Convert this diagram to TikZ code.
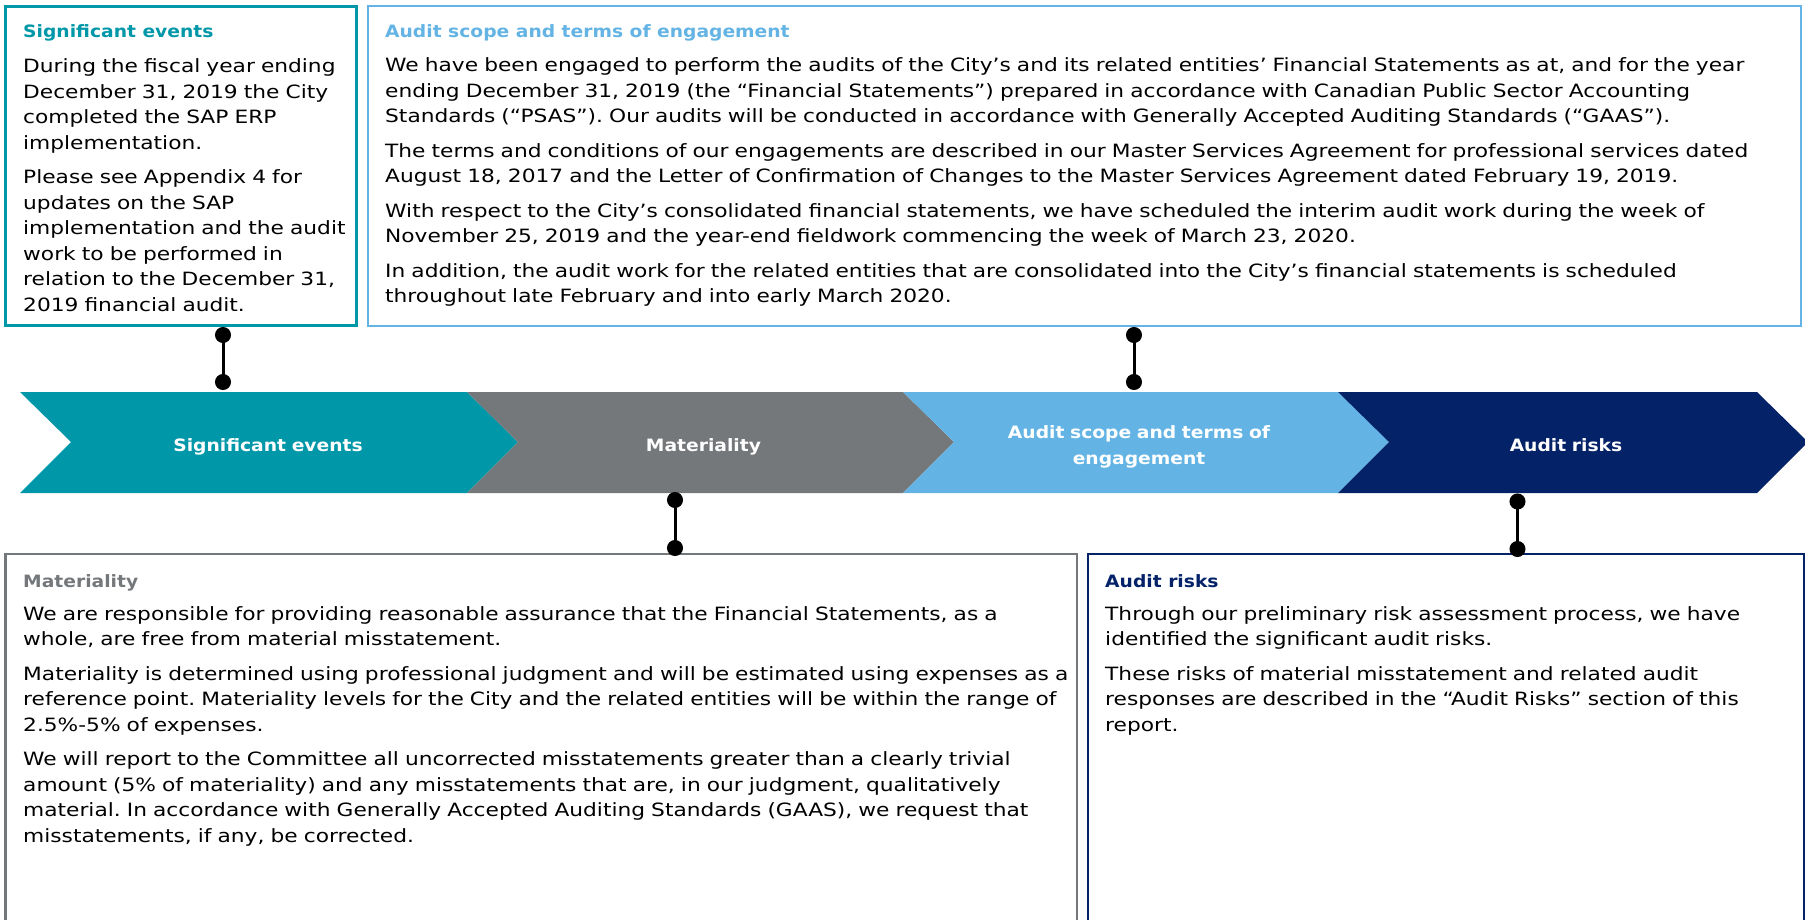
\documentclass[tikz,border=0pt]{standalone}
\usepackage{fontspec}
\setmainfont{DejaVu Sans}[FakeStretch=1.187]
\newfontfamily\headfont{DejaVu Sans}[FakeStretch=1.1]
\usepackage{tikz}
\usetikzlibrary{arrows.meta}
\frenchspacing

\definecolor{seTeal}{RGB}{0,151,169}
\definecolor{matGray}{RGB}{117,120,123}
\definecolor{scopeBlue}{RGB}{99,180,228}
\definecolor{riskNavy}{RGB}{3,34,104}

\tikzset{
  panel/.style={draw, rectangle, inner sep=0pt, outer sep=0pt, anchor=north west},
  head/.style={anchor=base west, inner sep=0pt, font=\headfont\bfseries\fontsize{17pt}{20pt}\selectfont},
  body/.style={anchor=base west, inner sep=0pt, text width=#1, align=left,
    font=\fontsize{18.3pt}{25.5pt}\selectfont},
  body/.default=1450pt,
  chevlabel/.style={anchor=base, inner sep=0pt, text=white, text width=330pt, align=center,
    font=\headfont\bfseries\fontsize{17pt}{26pt}\selectfont},
  link/.style={line width=3pt, {Circle[length=16pt,width=16pt]}-{Circle[length=16pt,width=16pt]}}
}

\begin{document}
\begin{tikzpicture}[x=1pt, y=-1pt]
    \useasboundingbox (0,0) rectangle (1805,920);
    \fill[white] (0,0) rectangle (1805,920);
    \clip (0,0) rectangle (1805,920);

    % chevron band: left edge, right edge, colour
    \foreach \xa/\xb/\col in {20/467/seTeal, 467/903/matGray, 903/1338/scopeBlue, 1338/1757/riskNavy}
      \fill[\col] (\xa,392) -- (\xb,392) -- (\xb+51,442) -- (\xb,493) -- (\xa,493) -- (\xa+51,442) -- cycle;

    \node[chevlabel] (se-lab) at (268,451.5) {Significant events};
    \node[chevlabel] (mat-lab) at (703.5,451.5) {Materiality};
    \node[chevlabel] (scope-lab) at (1139,438.5) {Audit scope and terms of\\engagement};
    \node[chevlabel] (risk-lab) at (1566,451.5) {Audit risks};

    % Significant events panel
    \node[panel, draw=seTeal, line width=3pt, minimum width=351pt, minimum height=319pt] (sebox) at (5.5,6.5) {};
    \node[head, text=seTeal] (se-head) at (23,38) {Significant events};
    \node[body=330pt] (se-body) at (23,72.7) {During the fiscal year ending\\December 31, 2019 the City\\completed the SAP ERP\\implementation.\\[9pt]
      Please see Appendix 4 for\\updates on the SAP\\implementation and the audit\\work to be performed in\\relation to the December 31,\\2019 financial audit.};

    % Audit scope panel
    \node[panel, draw=scopeBlue, line width=2pt, minimum width=1433pt, minimum height=319.5pt] (scopebox) at (368.3,6) {};
    \node[head, text=scopeBlue] (scope-head) at (385,38) {Audit scope and terms of engagement};
    \node[body] (scope-body) at (385,72) {We have been engaged to perform the audits of the City’s and its related entities’ Financial Statements as at, and for the year\\ending December 31, 2019 (the “Financial Statements”) prepared in accordance with Canadian Public Sector Accounting\\Standards (“PSAS”). Our audits will be conducted in accordance with Generally Accepted Auditing Standards (“GAAS”).\\[9pt]
      The terms and conditions of our engagements are described in our Master Services Agreement for professional services dated\\August 18, 2017 and the Letter of Confirmation of Changes to the Master Services Agreement dated February 19, 2019.\\[9pt]
      With respect to the City’s consolidated financial statements, we have scheduled the interim audit work during the week of\\November 25, 2019 and the year-end fieldwork commencing the week of March 23, 2020.\\[9pt]
      In addition, the audit work for the related entities that are consolidated into the City’s financial statements is scheduled\\throughout late February and into early March 2020.};

    % Materiality panel (runs off the page)
    \node[panel, draw=matGray, line width=2.5pt, minimum width=1071.5pt, minimum height=420pt] (matbox) at (5.5,554) {};
    \node[head, text=matGray] (mat-head) at (23,587) {Materiality};
    \node[body] (mat-body) at (23,620) {We are responsible for providing reasonable assurance that the Financial Statements, as a\\whole, are free from material misstatement.\\[9pt]
      Materiality is determined using professional judgment and will be estimated using expenses as a\\reference point. Materiality levels for the City and the related entities will be within the range of\\2.5\%-5\% of expenses.\\[9pt]
      We will report to the Committee all uncorrected misstatements greater than a clearly trivial\\amount (5\% of materiality) and any misstatements that are, in our judgment, qualitatively\\material. In accordance with Generally Accepted Auditing Standards (GAAS), we request that\\misstatements, if any, be corrected.};

    % Audit risks panel (runs off the page)
    \node[panel, draw=riskNavy, line width=2pt, minimum width=715.5pt, minimum height=420pt] (riskbox) at (1088,554) {};
    \node[head, text=riskNavy] (risk-head) at (1105,587) {Audit risks};
    \node[body] (risk-body) at (1105,620) {Through our preliminary risk assessment process, we have\\identified the significant audit risks.\\[9pt]
      These risks of material misstatement and related audit\\responses are described in the “Audit Risks” section of this\\report.};

    % pins between panels and band
    \coordinate (se-a) at (223,327);
    \coordinate (se-b) at (223,390);
    \coordinate (scope-a) at (1134,327);
    \coordinate (scope-b) at (1134,390);
    \coordinate (mat-a) at (675,492);
    \coordinate (mat-b) at (675,556);
    \coordinate (risk-a) at (1517.5,493.5);
    \coordinate (risk-b) at (1517.5,557);
    \draw[link] (se-a) -- (se-b);
    \draw[link] (scope-a) -- (scope-b);
    \draw[link] (mat-a) -- (mat-b);
    \draw[link] (risk-a) -- (risk-b);
\end{tikzpicture}
\end{document}
